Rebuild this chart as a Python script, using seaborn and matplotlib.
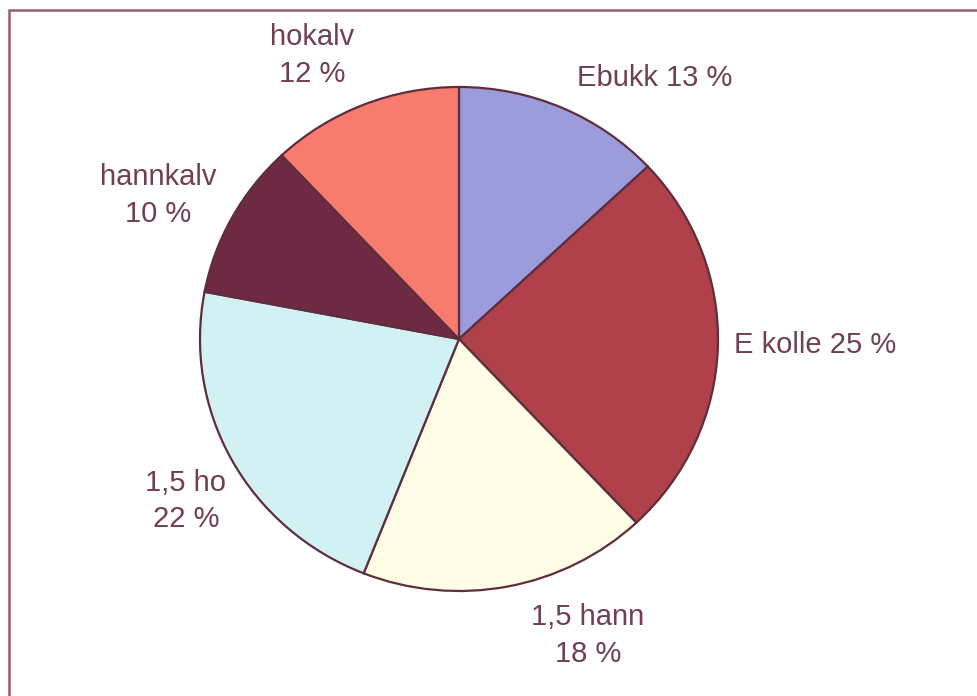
import matplotlib
matplotlib.use("Agg")
import matplotlib.pyplot as plt
import seaborn as sns
from matplotlib.patches import Rectangle

sns.set_theme(style="white")
plt.rcParams['font.family'] = ['Liberation Sans', 'DejaVu Sans']

# data
categories = ['Ebukk', 'E kolle', '1,5 hann', '1,5 ho', 'hannkalv', 'hokalv']
shares = [13, 25, 18, 22, 10, 12]
label_texts = ['Ebukk 13 %', 'E kolle 25 %', '1,5 hann\n18 %', '1,5 ho\n22 %', 'hannkalv\n10 %', 'hokalv\n12 %']

colors = ['#9c9cdc', '#b0404a', '#fffde6', '#d2f1f4', '#6e2a42', '#f77c6e']
edge = '#5e2e3c'
text_col = '#70404e'

# label anchor positions (layout, in pie radius units)
label_pos = [(0.757, 1.036), (1.375, -0.024), (0.498, -1.175), (-1.055, -0.643),
             (-1.162, 0.571), (-0.568, 1.125)]

fig = plt.figure(figsize=(9.77, 6.96), dpi=100)
ax = fig.add_axes([0, 0, 1, 1])

# pie centred at (459, 339) px, radius ~259 px wide / 252 px high
wedges, texts = ax.pie(shares, labels=label_texts, colors=colors, startangle=90,
                       counterclock=False, radius=1.0,
                       wedgeprops=dict(edgecolor=edge, linewidth=1.6),
                       textprops=dict(fontsize=21, color=text_col))
for t, (x, y) in zip(texts, label_pos):
    t.set_position((x, y))
    t.set_ha('center')
    t.set_va('center')
    t.set_linespacing(1.4)

ax.set_aspect('auto')
ax.set_xlim(-459 / 259, (977 - 459) / 259)
ax.set_ylim(-(696 - 339) / 252, 339 / 252)
ax.axis('off')

# outer frame (only top and left visible in the crop)
fig.patches.append(Rectangle((9 / 977, -0.1), 1.2, 1 - 10 / 696 + 0.1,
                             transform=fig.transFigure, fill=False,
                             edgecolor='#9a5a70', linewidth=1.8))

fig.savefig('out.png', dpi=100, facecolor='white')
